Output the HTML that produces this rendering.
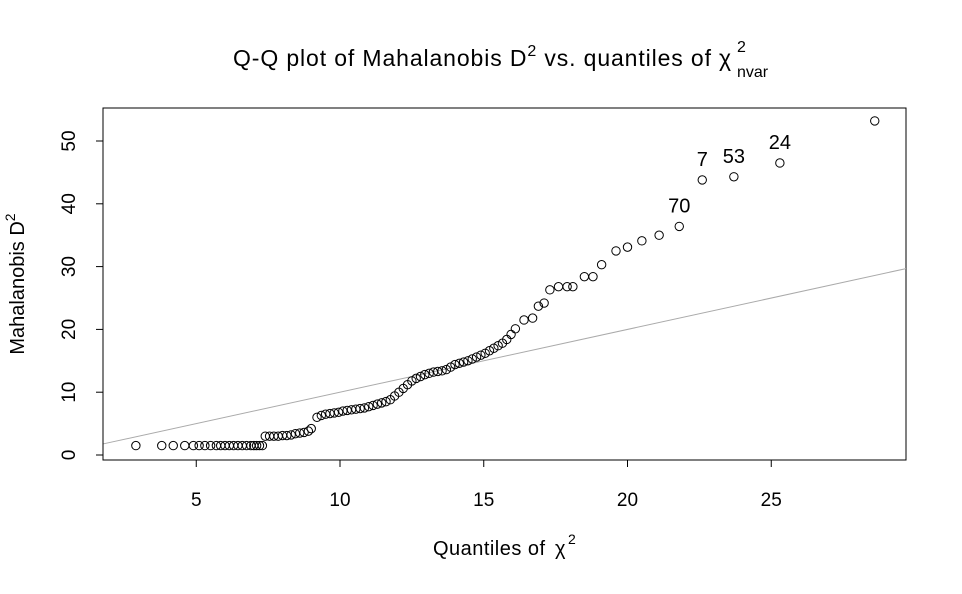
<!DOCTYPE html>
<html><head><meta charset="utf-8"><style>
body{margin:0;background:#fff;}
svg{display:block;font-family:"Liberation Sans",Arial,sans-serif;}
</style></head><body>
<svg id="chart" width="962" height="594">
<text x="233" y="66" font-size="23" textLength="478">Q-Q plot of Mahalanobis D<tspan dy="-10" font-size="16">2</tspan><tspan dy="10"> vs. quantiles of</tspan></text>
<text x="719" y="66" font-size="23">χ</text>
<text x="737" y="52" font-size="16">2</text>
<text x="737" y="77" font-size="16">nvar</text>
<text x="433" y="555" font-size="20" textLength="112">Quantiles of</text>
<text x="555" y="555" font-size="20">χ</text>
<text x="568" y="544" font-size="14">2</text>
<text transform="translate(24,284) rotate(-90)" text-anchor="middle" font-size="20">Mahalanobis D<tspan dy="-9" font-size="14">2</tspan></text>
<rect x="103" y="108" width="803" height="352" fill="none" stroke="#000" stroke-width="1"/>
<g id="g"></g>
</svg>
<script>
const xTicks=[5,10,15,20,25];
const yTicks=[0,10,20,30,40,50];
const qx=[2.9,3.8,4.2,4.6,4.9,5.1,5.3,5.5,5.7,5.85,6.0,6.15,6.3,6.45,6.6,6.75,6.9,7.0,7.1,7.2,7.3,
7.4,7.55,7.7,7.85,8.0,8.15,8.3,8.45,8.6,8.75,8.9,9.0,
9.2,9.35,9.5,9.65,9.8,9.95,10.1,10.25,10.4,10.55,10.7,10.85,11.0,11.15,11.3,11.45,11.6,11.75,11.9,12.05,12.2,12.35,12.5,12.65,12.8,12.95,13.1,13.25,13.4,13.55,13.7,13.85,14.0,14.15,14.3,14.45,14.6,14.75,14.9,15.05,15.2,15.35,15.5,15.65,15.8,15.95,
16.1,16.4,16.7,16.9,17.1,17.3,17.6,17.9,18.1,18.5,18.8,19.1,19.6,20.0,20.5,21.1,21.8,22.6,23.7,25.3,28.6];
const d2=[1.5,1.5,1.5,1.5,1.5,1.5,1.5,1.5,1.5,1.5,1.5,1.5,1.5,1.5,1.5,1.5,1.5,1.5,1.5,1.5,1.5,
3.0,3.0,3.0,3.0,3.1,3.1,3.2,3.4,3.5,3.6,3.8,4.2,
6.0,6.3,6.5,6.6,6.7,6.8,7.0,7.1,7.2,7.3,7.4,7.5,7.7,7.9,8.1,8.3,8.5,8.8,9.4,10.0,10.6,11.2,11.8,12.2,12.5,12.8,13.0,13.2,13.3,13.4,13.6,14.0,14.4,14.6,14.8,15.0,15.3,15.6,15.9,16.2,16.6,17.0,17.4,17.8,18.4,19.2,
20.1,21.5,21.8,23.7,24.2,26.3,26.8,26.8,26.8,28.4,28.4,30.3,32.5,33.1,34.1,35.0,36.4,43.8,44.3,46.5,53.2];
const outIdx=[96,97,98,95];
const outLabels=["7","53","24","70"];
const X=v=>52.5+v*28.75, Y=v=>455-v*6.28;
const g=document.getElementById('g'),NS='http://www.w3.org/2000/svg';
function mk(t,a){const e=document.createElementNS(NS,t);for(const k in a)e.setAttribute(k,a[k]);g.appendChild(e);return e;}
const ln=mk('line',{x1:103,y1:Y(1.76),x2:906,y2:Y(29.68),stroke:'#aaa','stroke-width':1});


mk('line',{x1:X(5),x2:X(25),y1:460,y2:460,stroke:'#000'});
xTicks.forEach(t=>{const l=mk('line',{x1:X(t),x2:X(t),y1:460,y2:467,stroke:'#000'});


const tx=mk('text',{x:X(t),y:506,'text-anchor':'middle','font-size':19});tx.textContent=t;

});
mk('line',{x1:103,x2:103,y1:Y(0),y2:Y(50),stroke:'#000'});
yTicks.forEach(t=>{const l=mk('line',{x1:96,x2:103,y1:Y(t),y2:Y(t),stroke:'#000'});


const tx=mk('text',{transform:`translate(75,${Y(t)}) rotate(-90)`,'text-anchor':'middle','font-size':19});tx.textContent=t;

});
qx.forEach((v,i)=>{const c=mk('circle',{cx:X(v),cy:Y(d2[i]),r:4.2,fill:'none',stroke:'#000','stroke-width':1});

});
outIdx.forEach((i,k)=>{const tx=mk('text',{x:X(qx[i]),y:Y(d2[i])-14,'text-anchor':'middle','font-size':20});tx.textContent=outLabels[k];

});
</script>
</body></html>
